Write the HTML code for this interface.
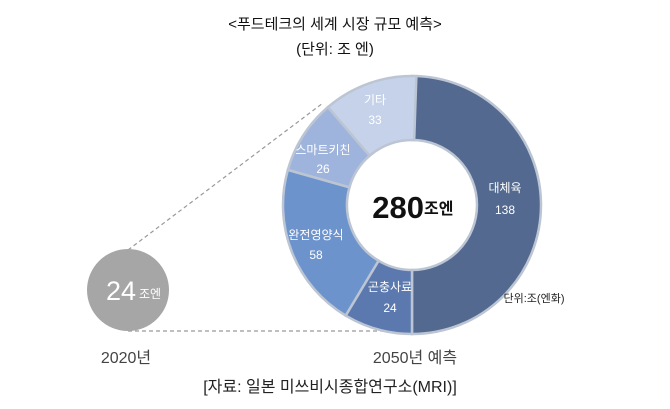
<!DOCTYPE html>
<html><head><meta charset="utf-8"><style>
html,body{margin:0;padding:0;background:#fff;}
svg{display:block;font-family:"Liberation Sans","Noto Sans CJK KR",sans-serif;}
</style></head><body>
<svg id="s" width="670" height="409" viewBox="0 0 670 409" xmlns="http://www.w3.org/2000/svg">
<line x1="128" y1="250" x2="323" y2="103" stroke="#999" stroke-width="1.2" stroke-dasharray="4,3"/>
<line x1="128" y1="331" x2="413" y2="331" stroke="#999" stroke-width="1.2" stroke-dasharray="4,3"/>
<g id="segs"></g>
<circle cx="128" cy="290" r="41" fill="#a6a6a6"/>
<text x="121" y="300" fill="#fff" font-size="27" text-anchor="middle">24</text>
<text x="150" y="298" fill="#fff" font-size="12" text-anchor="middle">조엔</text>
<text x="335" y="29" font-size="15" text-anchor="middle" fill="#111">&lt;푸드테크의 세계 시장 규모 예측&gt;</text>
<text x="335" y="54" font-size="15" text-anchor="middle" fill="#111">(단위: 조 엔)</text>
<text x="424" y="218" font-size="31" font-weight="bold" text-anchor="end" fill="#111">280</text>
<text x="424" y="214" font-size="16" font-weight="bold" fill="#111">조엔</text>
<g font-size="12" fill="#fff" text-anchor="middle">
<text x="375" y="104">기타</text><text x="375" y="124">33</text>
<text x="323" y="154">스마트키친</text><text x="323" y="173">26</text>
<text x="505" y="192">대체육</text><text x="505" y="214">138</text>
<text x="316" y="239">완전영양식</text><text x="316" y="259">58</text>
<text x="390" y="291">곤충사료</text><text x="390" y="312">24</text>
</g>
<text x="534" y="302" font-size="11" text-anchor="middle" fill="#222">단위:조(엔화)</text>
<text x="126" y="363" font-size="16" text-anchor="middle" fill="#444">2020년</text>
<text x="415" y="363" font-size="16" text-anchor="middle" fill="#444">2050년 예측</text>
<text x="330" y="392" font-size="16" text-anchor="middle" fill="#222">[자료: 일본 미쓰비시종합연구소(MRI)]</text>
</svg>
<script>
var cx=412,cy=205,R=129,r=65;
var d=[[138,"#53698f"],[24,"#5b79ae"],[58,"#6d93cd"],[26,"#9fb4dc"],[33,"#c6d2e9"]];
var tot=279,a=0,g=document.getElementById("segs"),h="";
function p(rad,ang){return [cx+rad*Math.sin(ang),cy-rad*Math.cos(ang)];}
d.forEach(function(s,i){var a0=a/tot*2*Math.PI;a+=s[0];if(i==0)a=tot/2;var a1=a/tot*2*Math.PI;
var l=(a1-a0)>Math.PI+0.001?1:0;var P0=p(R,a0),P1=p(R,a1),Q1=p(r,a1),Q0=p(r,a0);
h+='<path d="M'+P0+' A'+R+','+R+' 0 '+l+' 1 '+P1+' L'+Q1+' A'+r+','+r+' 0 '+l+' 0 '+Q0+' Z" fill="'+s[1]+'" stroke="#bcc5d3" stroke-width="2.5"/>';});
g.innerHTML=h;
</script>
</body></html>
